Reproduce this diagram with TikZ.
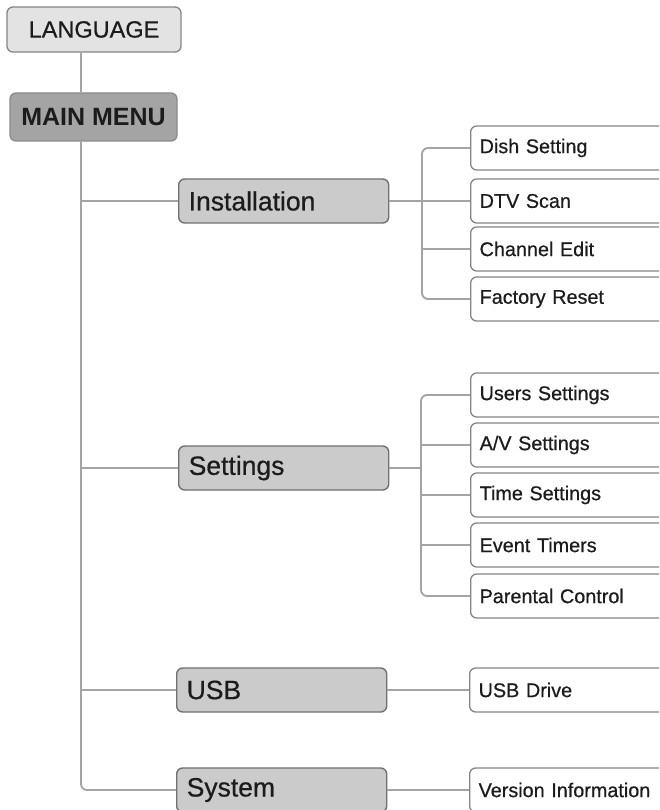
\documentclass[tikz,border=0pt]{standalone}
\usepackage{fontspec}
\setmainfont{Liberation Sans}
\newfontfamily\heavyfont{Liberation Sans}[FakeBold=0.6]
\begin{document}
\begin{tikzpicture}[x=1pt,y=-1pt,
  conn/.style={draw=linegray,line width=1.8pt},
  langbox/.style={draw=boxedge,fill=langfill,rounded corners=6pt,line width=1.3pt,
    minimum width=174pt,minimum height=45pt,inner sep=0pt,text=textblack,
    font=\heavyfont\fontsize{23.5}{27}\selectfont},
  menubox/.style={draw=menufill!85!black,fill=menufill,rounded corners=6pt,line width=1.3pt,
    minimum width=167pt,minimum height=48pt,inner sep=0pt,text=textblack,
    font=\fontsize{25}{29}\selectfont\bfseries},
  catbox/.style={draw=catedge,fill=catfill,rounded corners=6pt,line width=1.4pt,
    anchor=west,minimum height=44pt,inner xsep=10pt,inner ysep=0pt,
    text width=190pt,align=left,text=textblack,
    font=\heavyfont\fontsize{26.5}{30}\selectfont},
  subbox/.style={draw=boxedge,fill=white,rounded corners=6pt,line width=1.3pt,
    anchor=west,minimum height=44pt,inner xsep=9pt,inner ysep=0pt,
    text width=190pt,align=left,text=textblack,
    font=\heavyfont\fontsize{19.8}{23}\selectfont}
]
\definecolor{linegray}{HTML}{A4A4A4}
\definecolor{boxedge}{HTML}{858585}
\definecolor{catedge}{HTML}{707070}
\definecolor{langfill}{HTML}{E3E3E3}
\definecolor{menufill}{HTML}{A4A4A4}
\definecolor{catfill}{HTML}{CBCBCB}
\definecolor{textblack}{HTML}{1C1C1C}
\clip (0,0) rectangle (659,810);
\fill[white] (0,0) rectangle (659,810);

% top nodes
\node[langbox] (lang) at (94,29.5) {LANGUAGE};
\node[menubox] (mm) at (93.5,117) {MAIN MENU};

% categories
\node[catbox] (inst) at (178,201) {Installation};
\node[catbox] (sett) at (178,468) {Settings};
\node[catbox] (usb) at (176,690) {USB};
\node[catbox] (sys) at (176,790) {System};

% installation sub items
\node[subbox] (dish) at (470,148) {Dish Setting};
\node[subbox] (dtv) at (470,201) {DTV Scan};
\node[subbox] (chan) at (470,249) {Channel Edit};
\node[subbox] (fac) at (470,299) {Factory Reset};

% settings sub items
\node[subbox] (user) at (470,395) {Users Settings};
\node[subbox] (av) at (470,445) {A/V Settings};
\node[subbox] (time) at (470,495) {Time Settings};
\node[subbox] (event) at (470,545) {Event Timers};
\node[subbox] (par) at (470,596) {Parental Control};

% usb / system sub items
\node[subbox] (drive) at (469,690) {USB Drive};
\node[subbox] (ver) at (469,790) {Version Information};

% connectors
\coordinate (tx) at (81,0);
\coordinate (bi) at (422,0);
\coordinate (bs) at (421,0);
\draw[conn] (lang.south -| tx) -- (mm.north -| tx);
\draw[conn,rounded corners=6pt] (mm.south -| tx) -- (sys.west -| tx) -- (sys.west);
\draw[conn] (inst.west -| tx) -- (inst.west);
\draw[conn] (sett.west -| tx) -- (sett.west);
\draw[conn] (usb.west -| tx) -- (usb.west);

% installation bus
\draw[conn] (inst.east) -- (inst.east -| bi);
\draw[conn,rounded corners=6pt] (dish.west) -- (dish.west -| bi) -- (fac.west -| bi) -- (fac.west);
\draw[conn] (dtv.west -| bi) -- (dtv.west);
\draw[conn] (chan.west -| bi) -- (chan.west);

% settings bus
\draw[conn] (sett.east) -- (sett.east -| bs);
\draw[conn,rounded corners=6pt] (user.west) -- (user.west -| bs) -- (par.west -| bs) -- (par.west);
\draw[conn] (av.west -| bs) -- (av.west);
\draw[conn] (time.west -| bs) -- (time.west);
\draw[conn] (event.west -| bs) -- (event.west);

% usb / system
\draw[conn] (usb.east) -- (drive.west);
\draw[conn] (sys.east) -- (ver.west);
\end{tikzpicture}
\end{document}
